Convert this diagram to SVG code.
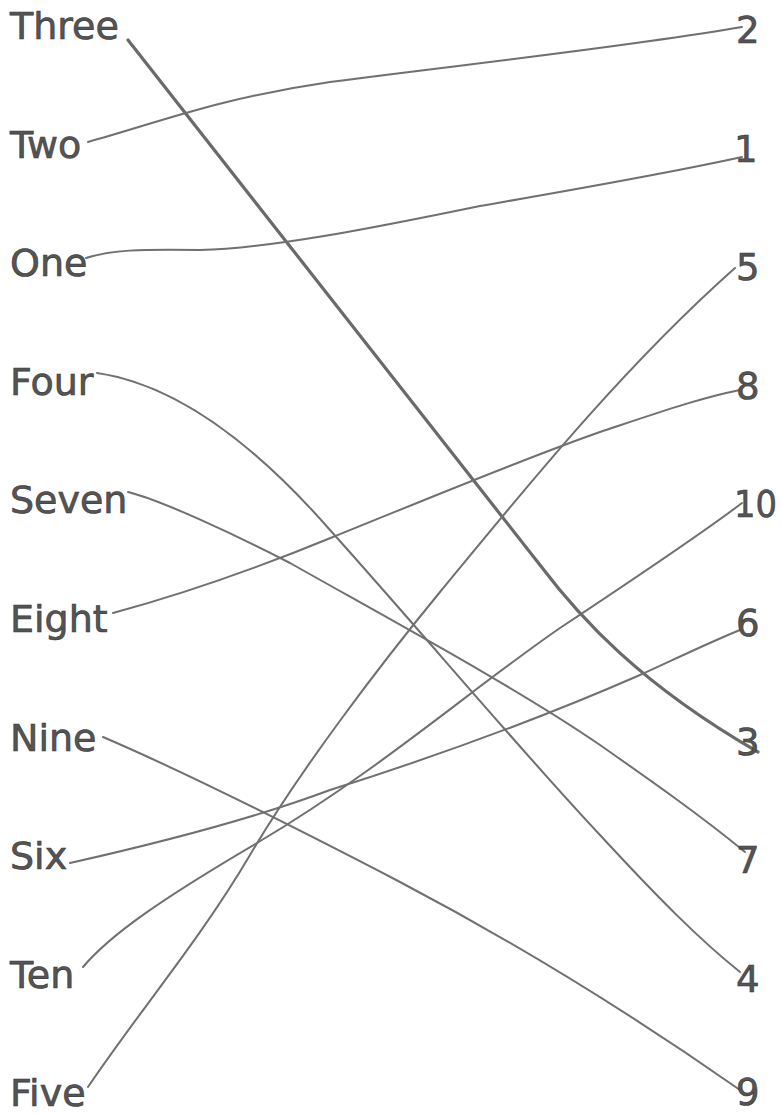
<svg xmlns="http://www.w3.org/2000/svg" width="781" height="1115" viewBox="0 0 781 1115">
<style>
.lbl{font-family:"DejaVu Sans","Liberation Sans",sans-serif;font-size:38px;fill:#555;stroke:#333;stroke-width:0.6}
.num{font-family:"DejaVu Sans","Liberation Sans",sans-serif;font-size:37px;fill:#555;stroke:#333;stroke-width:0.6}
.edge{fill:none;stroke:#707070;stroke-width:2;stroke-linecap:round}
.thick{stroke-width:3.2;stroke:#6a6a6a}
</style>
<rect width="781" height="1115" fill="#fff"/>
<g id="connectors">
<path class="edge thick" d="M128,40 L540,565 C580,618 640,684 758,752"/>
<path class="edge" d="M88,142 C160,122 220,98 330,82 C450,66 620,48 742,27"/>
<path class="edge" d="M86,258 C110,250 140,249 200,250 C280,248 400,222 480,206 C560,192 660,175 742,157"/>
<path class="edge" d="M97,373 C180,385 260,450 330,530 C420,630 520,750 600,835 C660,900 700,940 740,972"/>
<path class="edge" d="M128,492 C160,500 230,532 290,563 C400,625 520,690 600,745 C650,780 700,815 745,852"/>
<path class="edge" d="M113,613 C180,595 260,567 333,537 C420,502 520,460 600,432 C660,412 700,398 740,390"/>
<path class="edge" d="M103,737 C180,770 300,830 400,882 C520,945 640,1020 740,1090"/>
<path class="edge" d="M70,863 C150,845 250,820 330,790 C450,752 560,710 640,675 C690,652 715,640 740,630"/>
<path class="edge" d="M83,967 C110,935 160,900 257,843 C380,770 470,690 560,628 C640,575 700,535 742,503"/>
<path class="edge" d="M88,1087 C140,1010 200,940 250,855 C300,770 380,665 440,592 C520,495 620,370 735,268"/>
</g>
<g id="left-three"><text class="lbl" x="10" y="39">Three</text></g>
<g id="left-two"><text class="lbl" x="10" y="157.6">Two</text></g>
<g id="left-one"><text class="lbl" x="10" y="276.2">One</text></g>
<g id="left-four"><text class="lbl" x="10" y="394.8">Four</text></g>
<g id="left-seven"><text class="lbl" x="10" y="513.4">Seven</text></g>
<g id="left-eight"><text class="lbl" x="10" y="632">Eight</text></g>
<g id="left-nine"><text class="lbl" x="10" y="750.6">Nine</text></g>
<g id="left-six"><text class="lbl" x="10" y="869.2">Six</text></g>
<g id="left-ten"><text class="lbl" x="10" y="987.8">Ten</text></g>
<g id="left-five"><text class="lbl" x="10" y="1106.4">Five</text></g>
<g id="right-2"><text class="num" x="736" y="43">2</text></g>
<g id="right-1"><text class="num" x="734" y="161.6">1</text></g>
<g id="right-5"><text class="num" x="736" y="280.2">5</text></g>
<g id="right-8"><text class="num" x="736" y="398.8">8</text></g>
<g id="right-10"><text class="num" x="734" y="517.4" textLength="43" lengthAdjust="spacingAndGlyphs">10</text></g>
<g id="right-6"><text class="num" x="736" y="636">6</text></g>
<g id="right-3"><text class="num" x="736" y="754.6">3</text></g>
<g id="right-7"><text class="num" x="736" y="873.2">7</text></g>
<g id="right-4"><text class="num" x="736" y="991.8">4</text></g>
<g id="right-9"><text class="num" x="736" y="1105">9</text></g>
</svg>
